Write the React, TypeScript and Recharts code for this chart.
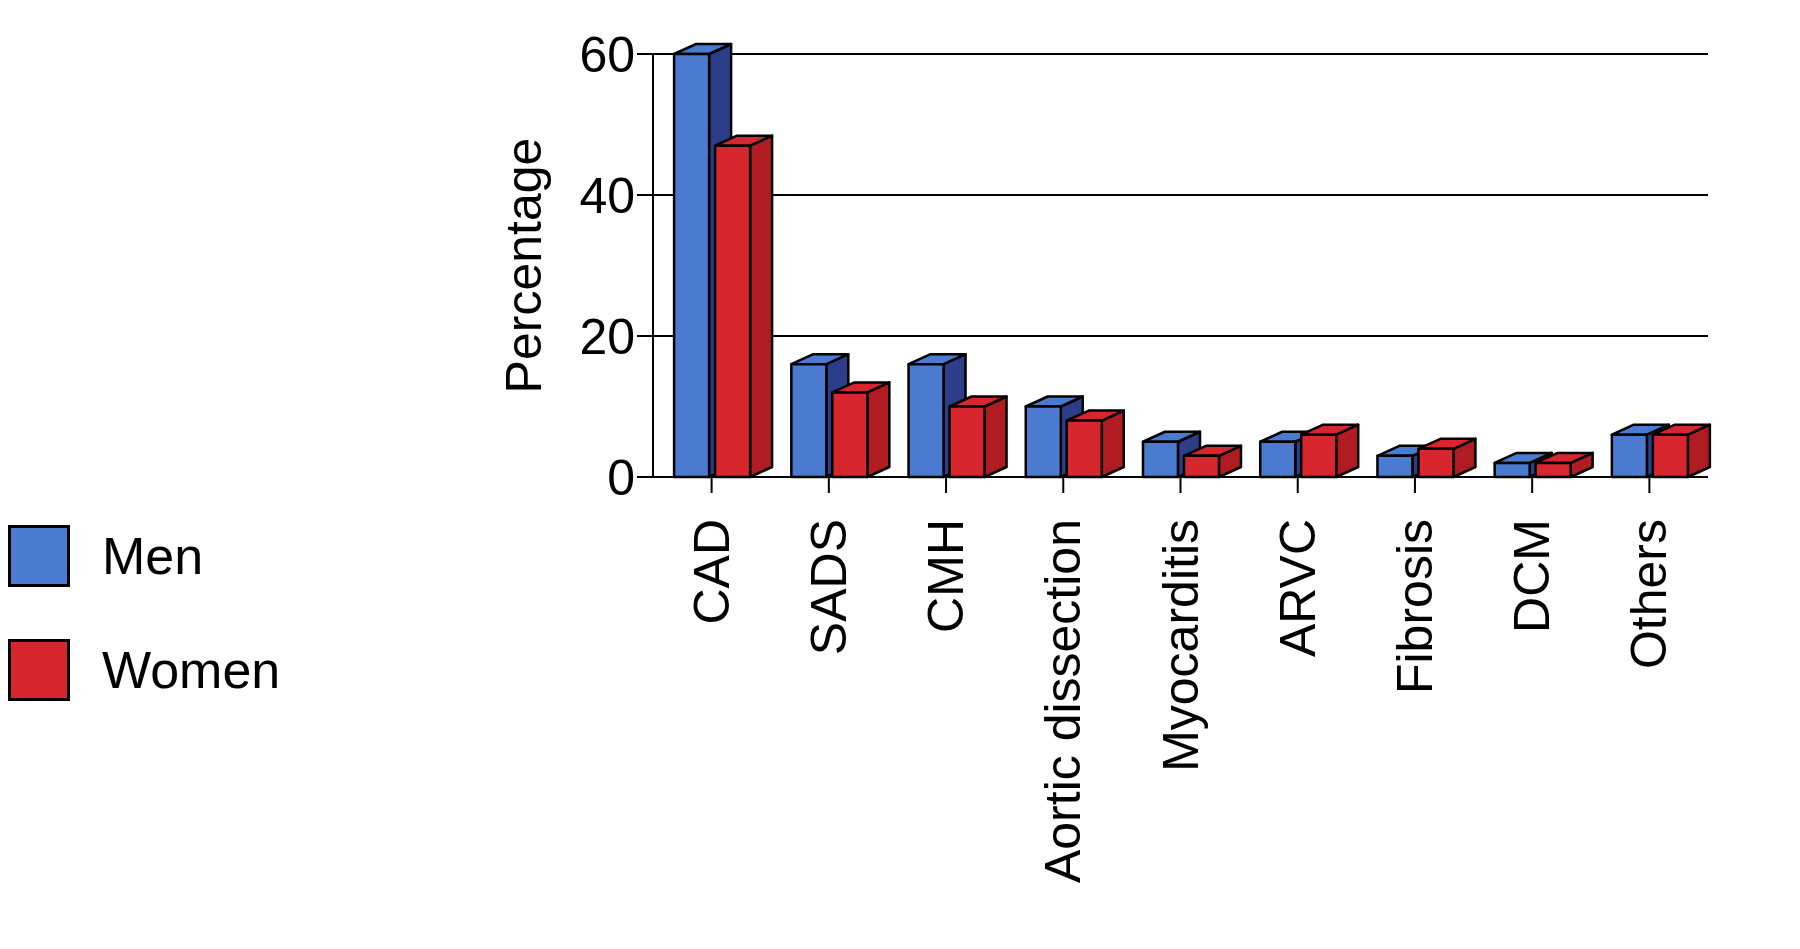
import { BarChart, Bar, XAxis, YAxis, CartesianGrid } from 'recharts';

const categories = ['CAD', 'SADS', 'CMH', 'Aortic dissection', 'Myocarditis', 'ARVC', 'Fibrosis', 'DCM', 'Others'];
const men = [60, 16, 16, 10, 5, 5, 3, 2, 6];
const women = [47, 12, 10, 8, 3, 6, 4, 2, 6];
const yTicks = [0, 20, 40, 60];

const data = categories.map((name, i) => ({ name, men: men[i], women: women[i] }));

const DX = 22;
const DY = -10;

const Box = (props: any) => {
    const { x, y, width, height, fill, side } = props;
    if (width == null || height == null) return null;
    const front = `M${x},${y} h${width} v${height} h${-width} Z`;
    const top = `M${x},${y} l${DX},${DY} h${width} l${-DX},${-DY} Z`;
    const right = `M${x + width},${y} l${DX},${DY} v${height} l${-DX},${-DY} Z`;
    return (
        <g stroke="#000" strokeWidth={2.5} strokeLinejoin="round">
            <path d={right} fill={side} />
            <path d={top} fill={fill} />
            <path d={front} fill={fill} />
        </g>
    );
};

const CatTick = (props: any) => {
    const { x, y, payload } = props;
    return (
        <text x={x} y={y + 24} transform={`rotate(-90 ${x} ${y + 24})`} textAnchor="end" dominantBaseline="central"
            fontSize={50} fill="#000">{payload.value}</text>
    );
};

export default function App() {
    return (
        <div style={{ position: 'relative', width: 1800, height: 949, fontFamily: '"Liberation Sans", Arial, sans-serif' }}>
            <div style={{ position: 'absolute', left: 0, top: 515 }}>
                {[['Men', '#4a7bd0'], ['Women', '#d8262e']].map(([label, c]) => (
                    <div key={label} style={{ display: 'flex', alignItems: 'center', height: 66, marginBottom: 48 }}>
                        <div style={{ width: 62, height: 62, background: c, border: '3px solid #000', boxSizing: 'border-box' }} />
                        <span style={{ marginLeft: 32, fontSize: 52 }}>{label}</span>
                    </div>
                ))}
            </div>
            <div style={{ position: 'absolute', left: 0, top: 0 }}>
                <BarChart width={1800} height={949} data={data}
                    margin={{ top: 46, right: 100, left: 510, bottom: 450 }}
                    barCategoryGap="18%" barGap={6}>
                    <CartesianGrid vertical={false} stroke="#000" strokeWidth={2} />
                    <YAxis domain={[0, 60]} ticks={yTicks} tick={{ fontSize: 50, fill: '#000' }}
                        stroke="#000" strokeWidth={2} tickSize={16} width={135}
                        label={{ value: 'Percentage', angle: -90, position: 'insideLeft', fontSize: 50, fill: '#000', style: { textAnchor: 'middle' } }} />
                    <XAxis dataKey="name" tick={<CatTick />} interval={0} stroke="#000" strokeWidth={2} tickSize={16} />
                    <Bar dataKey="men" fill="#4a7bd0" isAnimationActive={false} shape={(p: any) => <Box {...p} side="#2c3d8a" />} />
                    <Bar dataKey="women" fill="#d8262e" isAnimationActive={false} shape={(p: any) => <Box {...p} side="#b01c22" />} />
                </BarChart>
            </div>
        </div>
    );
}
